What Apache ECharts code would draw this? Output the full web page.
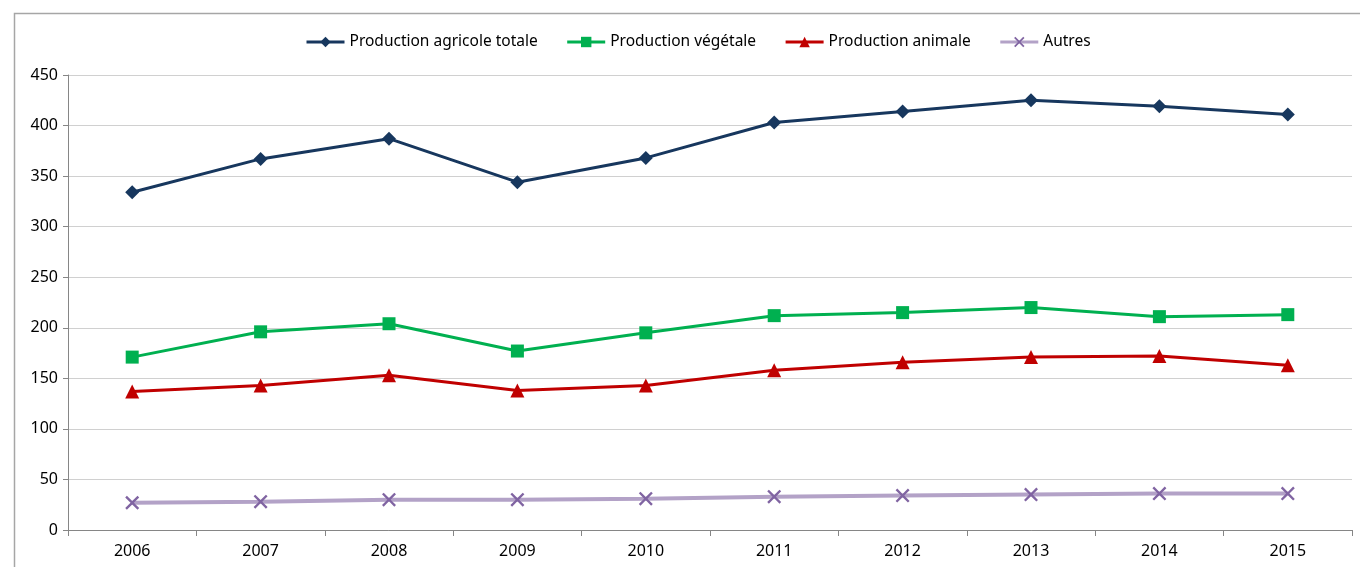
<!DOCTYPE html>
<html><head><meta charset="utf-8">
<script src="https://cdn.jsdelivr.net/npm/echarts@6/dist/echarts.min.js"></script>
<style>html,body{margin:0;padding:0;background:#fff}#c{width:1360px;height:567px}</style>
</head><body><div id="c"></div>
<script>
const categories = ['2006','2007','2008','2009','2010','2011','2012','2013','2014','2015'];
const totale   = [334, 367, 387, 344, 368, 403, 414, 425, 419, 411];
const vegetale = [171, 196, 204, 177, 195, 212, 215, 220, 211, 213];
const animale  = [137, 143, 153, 138, 143, 158, 166, 171, 172, 163];
const autres   = [27, 28, 30, 30, 31, 33, 34, 35, 36, 36];
const yTicks = {min: 0, max: 450, interval: 50};

const chart = echarts.init(document.getElementById('c'));
const font = 'Noto Sans';
const xPath = 'path://M0,0.12L0.12,0L0.5,0.38L0.88,0L1,0.12L0.62,0.5L1,0.88L0.88,1L0.5,0.62L0.12,1L0,0.88L0.38,0.5Z';
chart.setOption({
  animation: false,
  textStyle: {fontFamily: font},
  graphic: [{
    type: 'rect', left: 12, top: 11, silent: true,
    shape: {width: 1400, height: 600},
    style: {fill: 'none', stroke: '#a6a6a6', lineWidth: 1.5}
  }],
  legend: {
    top: 29, left: 300, itemWidth: 38, itemHeight: 13, itemGap: 28,
    lineStyle: {width: 3},
    textStyle: {fontSize: 15.5, color: '#000', fontFamily: font},
    data: ['Production agricole totale','Production végétale','Production animale','Autres']
  },
  grid: {left: 68, right: 8, top: 75, bottom: 37},
  xAxis: {
    type: 'category', data: categories, boundaryGap: true,
    axisLine: {lineStyle: {color: '#868686', width: 1}},
    axisTick: {show: true, length: 6, lineStyle: {color: '#868686'}},
    axisLabel: {color: '#000', fontSize: 16, margin: 13}
  },
  yAxis: {
    type: 'value', min: yTicks.min, max: yTicks.max, interval: yTicks.interval,
    axisLine: {show: true, lineStyle: {color: '#868686'}},
    axisTick: {show: true, length: 5, lineStyle: {color: '#868686'}},
    axisLabel: {color: '#000', fontSize: 16, margin: 10},
    splitLine: {lineStyle: {color: '#d0d0d0', width: 1}}
  },
  series: [
    {name: 'Production agricole totale', type: 'line', data: totale, symbol: 'diamond', symbolSize: 14,
     lineStyle: {color: '#17375E', width: 3}, itemStyle: {color: '#17375E'}},
    {name: 'Production végétale', type: 'line', data: vegetale, symbol: 'rect', symbolSize: 13,
     lineStyle: {color: '#00B050', width: 3}, itemStyle: {color: '#00B050'}},
    {name: 'Production animale', type: 'line', data: animale, symbol: 'triangle', symbolSize: 14,
     lineStyle: {color: '#C00000', width: 3}, itemStyle: {color: '#C00000'}},
    {name: 'Autres', type: 'line', data: autres, symbol: xPath, symbolSize: 14,
     lineStyle: {color: '#B3A2C7', width: 4}, itemStyle: {color: '#8064A2'}}
  ]
});
</script></body></html>
